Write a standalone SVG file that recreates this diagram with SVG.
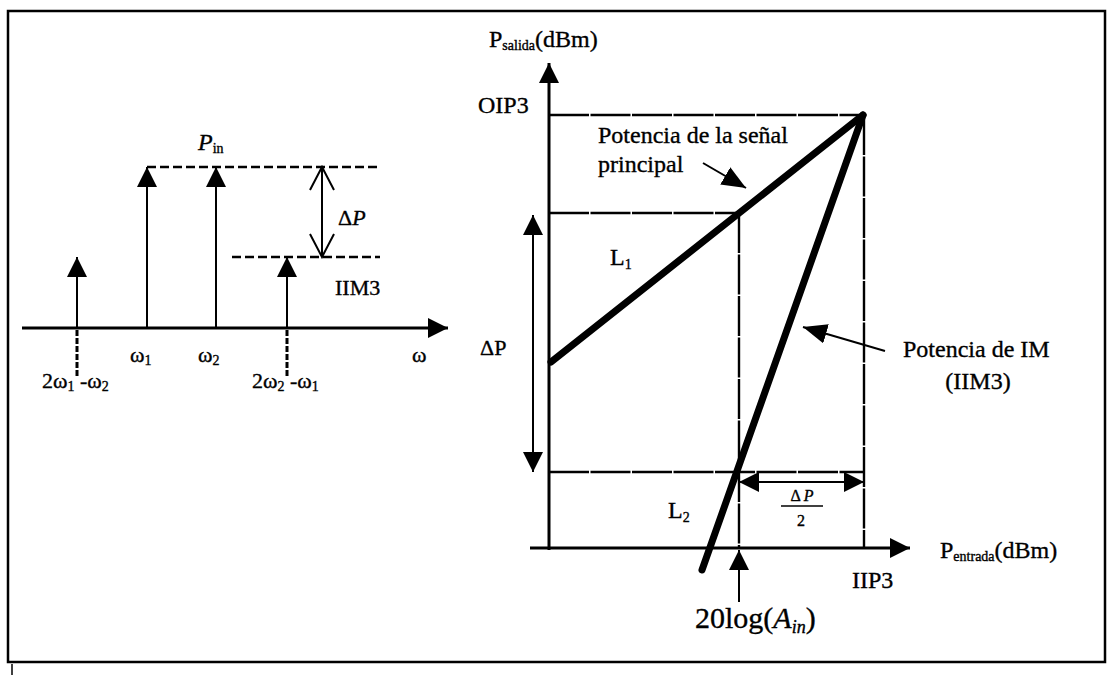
<svg xmlns="http://www.w3.org/2000/svg" width="1113" height="675" viewBox="0 0 1113 675">
<style>
text{font-family:"Liberation Serif","Times New Roman",serif;fill:#000;stroke:#000;stroke-width:0.35}
.ln{stroke:#000;fill:none;stroke-width:2}
.ax{stroke:#000;fill:none;stroke-width:3}
.dash{stroke:#000;fill:none;stroke-width:2.6;stroke-dasharray:9 4}
.grid{stroke:#000;fill:none;stroke-width:2.4;stroke-dasharray:40 1.5}
.thick{stroke:#000;fill:none;stroke-width:7;stroke-linecap:round}
.t22{font-size:22px}
.t24{font-size:24px}
.sub{font-size:14px}
</style>
<defs>
<marker id="ah" viewBox="0 0 20 20" refX="20" refY="10" markerWidth="20" markerHeight="20" markerUnits="userSpaceOnUse" orient="auto-start-reverse">
<path d="M0,0 L20,10 L0,20 z" fill="#000"/>
</marker>
<marker id="ahb" viewBox="0 0 24 20" refX="24" refY="10" markerWidth="24" markerHeight="20" markerUnits="userSpaceOnUse" orient="auto">
<path d="M0,0 L24,10 L0,20 z" fill="#000"/>
</marker>
</defs>
<rect x="8" y="11" width="1097" height="651" fill="none" stroke="#000" stroke-width="2.5"/>
<line x1="12" y1="664" x2="12" y2="675" stroke="#000" stroke-width="1.5"/>

<g id="spectrum">
<g id="connectors-spectrum">
<line class="ax" x1="22" y1="328" x2="448" y2="328" stroke-width="2.5" marker-end="url(#ah)"/>
<line class="ln" x1="77" y1="328" x2="77" y2="257" marker-end="url(#ah)"/>
<line class="ln" x1="147" y1="328" x2="147" y2="167" marker-end="url(#ah)"/>
<line class="ln" x1="216" y1="328" x2="216" y2="167" marker-end="url(#ah)"/>
<line class="ln" x1="287" y1="328" x2="287" y2="257" marker-end="url(#ah)"/>
<line x1="77" y1="330" x2="77" y2="377" stroke="#000" stroke-width="3" stroke-dasharray="6 2"/>
<line x1="287" y1="330" x2="287" y2="377" stroke="#000" stroke-width="3" stroke-dasharray="6 2"/>
<line class="dash" x1="147" y1="167" x2="380" y2="167"/>
<line class="dash" x1="232" y1="257" x2="380" y2="257"/>
<line class="ln" x1="322" y1="167" x2="322" y2="257"/>
<path class="ln" d="M310,190 L322,167 L334,190 M310,234 L322,257 L334,234"/>
</g>
<g id="lbl-pin"><text class="t24" x="198" y="150"><tspan font-style="italic">P</tspan><tspan class="sub" dy="3">in</tspan></text></g>
<g id="lbl-dp1"><text class="t22" x="338" y="225">Δ<tspan font-style="italic">P</tspan></text></g>
<g id="lbl-iim3"><text class="t22" x="335" y="295">IIM3</text></g>
<g id="lbl-w1"><text class="t22" x="130" y="362">ω<tspan class="sub" dy="3">1</tspan></text></g>
<g id="lbl-w2"><text class="t22" x="198" y="362">ω<tspan class="sub" dy="3">2</tspan></text></g>
<g id="lbl-w"><text class="t22" x="412" y="362">ω</text></g>
<g id="lbl-2w1"><text class="t22" x="42" y="388">2ω<tspan class="sub" dy="3">1</tspan><tspan dy="-3"> -ω</tspan><tspan class="sub" dy="3">2</tspan></text></g>
<g id="lbl-2w2"><text class="t22" x="252" y="388">2ω<tspan class="sub" dy="3">2</tspan><tspan dy="-3"> -ω</tspan><tspan class="sub" dy="3">1</tspan></text></g>
</g>

<g id="graph">
<g id="connectors">
<line class="grid" x1="549" y1="115" x2="864" y2="115"/>
<line class="grid" x1="864" y1="115" x2="864" y2="548"/>
<line class="grid" x1="549" y1="213" x2="739" y2="213"/>
<line class="grid" x1="739" y1="213" x2="739" y2="548"/>
<line class="grid" x1="549" y1="472" x2="864" y2="472" stroke-width="3"/>
<line class="ax" x1="549" y1="550" x2="549" y2="63" stroke-width="3.5" marker-end="url(#ah)"/>
<line class="ax" x1="530" y1="548" x2="910" y2="548" marker-end="url(#ah)"/>
<line class="thick" x1="551" y1="362" x2="863" y2="115"/>
<line class="thick" x1="863" y1="115" x2="702" y2="570"/>
<line class="ln" x1="739" y1="482" x2="864" y2="482" marker-start="url(#ah)" marker-end="url(#ah)"/>
<line class="ln" x1="533" y1="215" x2="533" y2="472" marker-start="url(#ah)" marker-end="url(#ah)"/>
<line class="ln" x1="739" y1="602" x2="739" y2="550" marker-end="url(#ah)"/>
<line class="ln" x1="703" y1="163" x2="746" y2="188" marker-end="url(#ahb)"/>
<line class="ln" x1="885" y1="351" x2="803" y2="327" marker-end="url(#ahb)"/>
</g>
<g id="lbl-psalida"><text class="t24" x="489" y="47">P<tspan class="sub" dy="3">salida</tspan><tspan dy="-3">(dBm)</tspan></text></g>
<g id="lbl-oip3"><text class="t24" x="478" y="113">OIP3</text></g>
<g id="lbl-senal"><text class="t24" x="598" y="143">Potencia de la señal</text><text class="t24" x="598" y="172">principal</text></g>
<g id="lbl-l1"><text class="t24" x="610" y="265">L<tspan class="sub" dy="4">1</tspan></text></g>
<g id="lbl-dp2"><text class="t22" x="480" y="355">ΔP</text></g>
<g id="lbl-l2"><text class="t24" x="668" y="518">L<tspan class="sub" dy="4">2</tspan></text></g>
<g id="lbl-im"><text class="t24" x="903" y="357">Potencia de IM</text><text class="t24" x="978" y="389" text-anchor="middle">(IIM3)</text></g>
<g id="lbl-dp-half"><text x="802" y="501" font-size="16" text-anchor="middle">Δ <tspan font-style="italic">P</tspan></text><line x1="781" y1="506" x2="823" y2="506" stroke="#000" stroke-width="1.5"/><text x="801" y="526" font-size="16" text-anchor="middle">2</text></g>
<g id="lbl-pentrada"><text class="t24" x="940" y="558">P<tspan class="sub" dy="3">entrada</tspan><tspan dy="-3">(dBm)</tspan></text></g>
<g id="lbl-iip3"><text class="t24" x="852" y="588">IIP3</text></g>
<g id="lbl-20log"><text x="695" y="628" font-size="30">20log(<tspan font-style="italic">A</tspan><tspan font-style="italic" font-size="18" dy="5">in</tspan><tspan dy="-5">)</tspan></text></g>
</g>
</svg>
